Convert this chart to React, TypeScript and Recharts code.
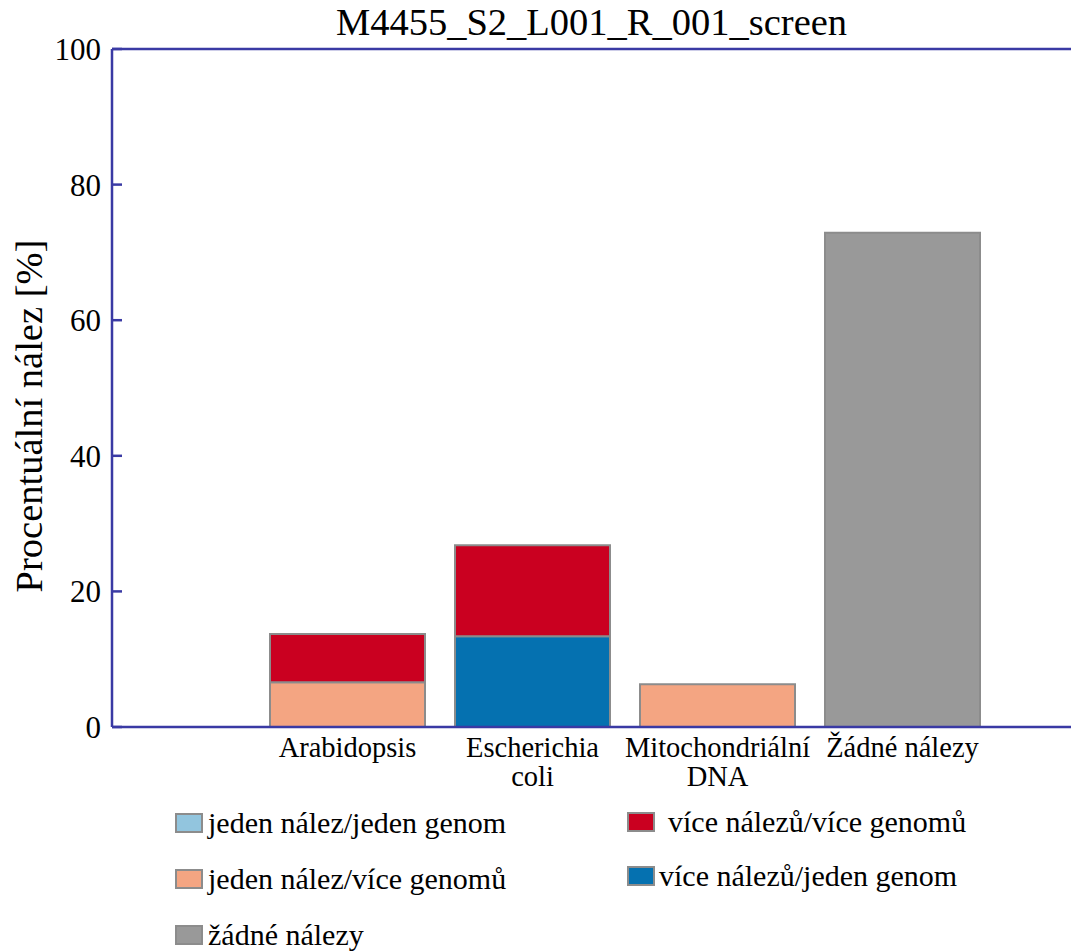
import { BarChart, Bar, XAxis, YAxis, Legend, ReferenceLine } from 'recharts';

const categories = ['Arabidopsis', 'Escherichia coli', 'Mitochondriální DNA', 'Žádné nálezy'];
const categoryLines = [['Arabidopsis'], ['Escherichia', 'coli'], ['Mitochondriální', 'DNA'], ['Žádné nálezy']];

// percent of reads per category, one array per hit type
const jedenJeden = [0, 0, 0, 0];
const jedenVice = [6.6, 0, 6.3, 0];
const viceJeden = [0, 13.4, 0, 0];
const viceVice = [7.1, 13.4, 0, 0];
const zadne = [0, 0, 0, 72.9];

const yTicks = [0, 20, 40, 60, 80, 100];

const series = [
  { key: 'jedenJeden', name: 'jeden nález/jeden genom', color: '#92c5de', values: jedenJeden },
  { key: 'jedenVice', name: 'jeden nález/více genomů', color: '#f4a582', values: jedenVice },
  { key: 'viceJeden', name: 'více nálezů/jeden genom', color: '#0571b0', values: viceJeden },
  { key: 'viceVice', name: 'více nálezů/více genomů', color: '#ca0020', values: viceVice },
  { key: 'zadne', name: 'žádné nálezy', color: '#999999', values: zadne }
];

const data = categories.map((name, i) => {
  const row: Record<string, string | number> = { name };
  series.forEach((s) => {
    row[s.key] = s.values[i];
  });
  return row;
});

const FONT = '"Liberation Serif", "Times New Roman", serif';
const AXIS = '#3a3aa4';

function CategoryTick({ x, y, index }: any) {
  const lines = categoryLines[index] ?? [];
  return (
    <text x={x} y={y + 22} textAnchor="middle" fontFamily={FONT} fontSize={28.5} fill="#000">
      {lines.map((line, i) => (
        <tspan key={i} x={x} dy={i === 0 ? 0 : 28.5}>
          {line}
        </tspan>
      ))}
    </text>
  );
}

function YTitle({ viewBox }: any) {
  const cx = viewBox.x + 29;
  const cy = viewBox.y + viewBox.height / 2 + 28;
  return (
    <text
      x={cx}
      y={cy}
      transform={`rotate(-90 ${cx} ${cy})`}
      textAnchor="middle"
      dominantBaseline="central"
      fontFamily={FONT}
      fontSize={38.5}
      fill="#000"
    >
      Procentuální nález [%]
    </text>
  );
}

// legend laid out in two columns, left one with three rows
const legendColumns = [
  { keys: ['jedenJeden', 'jedenVice', 'zadne'], rowHeight: 56, gaps: [5, 5, 5] },
  { keys: ['viceVice', 'viceJeden'], rowHeight: 54, gaps: [13, 4] }
];

function LegendBox() {
  return (
    <div style={{ display: 'flex', fontFamily: FONT, fontSize: 30, color: '#000' }}>
      {legendColumns.map((col, ci) => (
        <div key={ci} style={{ width: 452 }}>
          {col.keys.map((key, ri) => {
            const s = series.find((d) => d.key === key)!;
            return (
              <div key={key} style={{ display: 'flex', alignItems: 'center', height: col.rowHeight }}>
                <span
                  style={{
                    display: 'inline-block',
                    width: 24,
                    height: 16,
                    background: s.color,
                    border: '2px solid #8c8c8c',
                    marginRight: col.gaps[ri]
                  }}
                />
                <span>{s.name}</span>
              </div>
            );
          })}
        </div>
      ))}
    </div>
  );
}

export default function App() {
  return (
    <div style={{ position: 'absolute', left: 0, top: 0, width: 1071, height: 951 }}>
      <div
        style={{
          position: 'absolute',
          left: 112,
          width: 959,
          top: 0,
          textAlign: 'center',
          fontFamily: FONT,
          fontSize: 38.5,
          lineHeight: '44px'
        }}
      >
        M4455_S2_L001_R_001_screen
      </div>
      <BarChart
        width={1071}
        height={951}
        data={data}
        margin={{ top: 49, right: 0, bottom: 154, left: 0 }}
        barCategoryGap={15}
      >
        <XAxis
          dataKey="name"
          padding={{ left: 143, right: 76 }}
          height={70}
          tickLine={false}
          axisLine={{ stroke: AXIS, strokeWidth: 2.5 }}
          tick={<CategoryTick />}
          interval={0}
        />
        <YAxis
          width={112}
          domain={[0, 100]}
          ticks={yTicks}
          tickSize={-10}
          tickMargin={21}
          axisLine={{ stroke: AXIS, strokeWidth: 2.5 }}
          tickLine={{ stroke: AXIS, strokeWidth: 2.5 }}
          tick={{ fontFamily: FONT, fontSize: 31, fill: '#000' }}
          label={<YTitle />}
        />
        <ReferenceLine y={100} stroke={AXIS} strokeWidth={2.5} />
        {series.map((s) => (
          <Bar
            key={s.key}
            dataKey={s.key}
            name={s.name}
            stackId="a"
            fill={s.color}
            stroke="#8c8c8c"
            strokeWidth={2}
            isAnimationActive={false}
          />
        ))}
        <Legend
          layout="vertical"
          verticalAlign="middle"
          align="center"
          content={<LegendBox />}
          wrapperStyle={{ left: 175, top: 795, width: 904 }}
        />
      </BarChart>
    </div>
  );
}
